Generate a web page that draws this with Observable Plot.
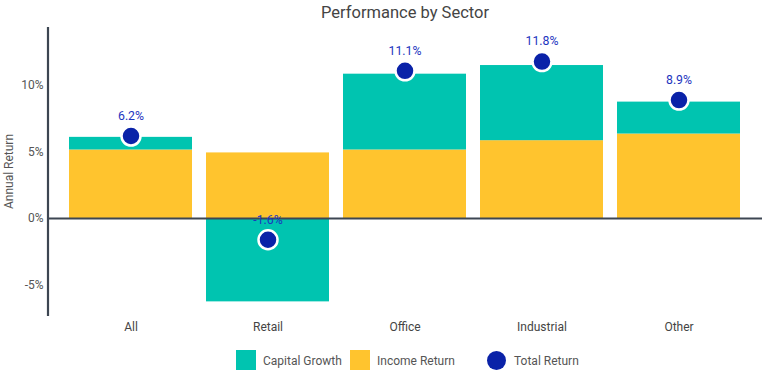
<!DOCTYPE html>
<html>
<head>
<meta charset="utf-8">
<script src="https://cdn.jsdelivr.net/npm/d3@7"></script>
<script src="https://cdn.jsdelivr.net/npm/@observablehq/plot@0.6"></script>
<style>
  html, body { margin: 0; padding: 0; background: #fff; }
  body { width: 768px; height: 384px; position: relative; overflow: hidden; font-family: Roboto, "Noto Sans", sans-serif; }
  #title { position: absolute; left: 48px; width: 714px; top: 0; height: 24px; line-height: 26px; text-align: center; font-size: 16.5px; color: #444; }
  #chart { position: absolute; left: 0; top: 24px; }
  .lg { position: absolute; top: 351px; font-size: 12px; color: #555; line-height: 20px; }
  .sw { position: absolute; top: 350px; width: 20px; height: 20px; }
  .dot { position: absolute; top: 351px; width: 19px; height: 19px; border-radius: 50%; background: #0a22a8; }
</style>
</head>
<body>
<div id="title">Performance by Sector</div>
<div id="chart"></div>
<div class="sw" style="left:236px;background:#00c4b0"></div>
<div class="lg" style="left:263px">Capital Growth</div>
<div class="sw" style="left:350px;background:#ffc42e"></div>
<div class="lg" style="left:377px">Income Return</div>
<div class="dot" style="left:487px"></div>
<div class="lg" style="left:514px">Total Return</div>
<script>
const sectors = ["All", "Retail", "Office", "Industrial", "Other"];
const incomeReturn = [5.15, 4.93, 5.15, 5.85, 6.35];
const capitalGrowth = [0.95, -6.27, 5.7, 5.65, 2.4];
const totalReturn = [6.2, -1.6, 11.1, 11.8, 8.9];
const yTicks = [-5, 0, 5, 10];

const teal = "#00c4b0", yellow = "#ffc42e", navy = "#0a22a8";

const bars = [];
sectors.forEach((s, i) => {
  bars.push({sector: s, series: "Income Return", value: incomeReturn[i]});
  bars.push({sector: s, series: "Capital Growth", value: capitalGrowth[i]});
});
const totals = sectors.map((s, i) => ({sector: s, total: totalReturn[i]}));

const chart = Plot.plot({
  width: 768,
  height: 320,
  marginLeft: 48,
  marginRight: 6,
  marginTop: 3,
  marginBottom: 28,
  style: {fontFamily: "Roboto, 'Noto Sans', sans-serif", fontSize: "12px", color: "#555", background: "transparent"},
  x: {domain: sectors, paddingInner: 0.1, paddingOuter: 0.153, label: null, tickSize: 0, tickPadding: 8},
  y: {domain: [-7.37, 14.36], ticks: yTicks, tickFormat: d => `${d}%`, label: null, tickSize: 0, tickPadding: 5},
  color: {domain: ["Capital Growth", "Income Return"], range: [teal, yellow]},
  marks: [
    Plot.barY(bars, Plot.stackY({x: "sector", y: "value", fill: "series", order: ["Income Return", "Capital Growth"]})),
    Plot.ruleY([0], {stroke: "#3d4652", strokeWidth: 2}),
    Plot.axisX({tickSize: 0, tickPadding: 6, fontSize: 12, fill: "#444", label: null}),
    Plot.axisY({ticks: yTicks, tickFormat: d => `${d}%`, tickSize: 0, tickPadding: 5, fontSize: 12, fill: "#555", label: null}),
    Plot.dot(totals, {x: "sector", y: "total", r: 9.5, fill: navy, stroke: "#fff", strokeWidth: 2.5}),
    Plot.text(totals, {x: "sector", y: "total", text: d => `${d.total.toFixed(1)}%`, dy: -20, fill: "#1d35c0", fontSize: 12.3})
  ]
});
document.getElementById("chart").appendChild(chart);

// y-axis line along the left edge of the plot frame, spanning the y scale's range
const svg = d3.select(chart);
const ys = chart.scale("y");
svg.append("line")
  .attr("x1", 48).attr("x2", 48)
  .attr("y1", ys.range[0]).attr("y2", ys.range[1])
  .attr("stroke", "#3d4652").attr("stroke-width", 2.2);
// axis title
svg.append("text")
  .attr("transform", `translate(10,${(ys.range[0] + ys.range[1]) / 2}) rotate(-90)`)
  .attr("text-anchor", "middle").attr("dominant-baseline", "middle")
  .attr("font-size", 12).attr("fill", "#555")
  .text("Annual Return");
</script>
</body>
</html>
